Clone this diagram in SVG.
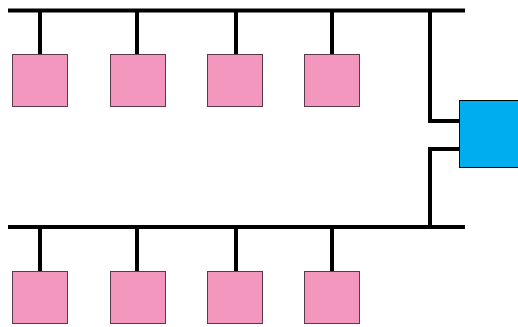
<svg xmlns="http://www.w3.org/2000/svg" width="518" height="327" viewBox="0 0 518 327">
<style>
.bus{stroke:#000;stroke-width:4;fill:none}
.pc{fill:#F497BE;stroke:#5a3a4a;stroke-width:1}
.hub{fill:#00AEEF;stroke:#000;stroke-width:1}
</style>
<rect width="518" height="327" fill="#fff"/>
<g id="connectors">
<path class="bus" d="M8 10.5H465M8 227H465"/>
<path class="bus" d="M40 10.5V54M137 10.5V54M236 10.5V54M332 10.5V54"/>
<path class="bus" d="M40 227V271M137 227V271M236 227V271M332 227V271"/>
<path class="bus" d="M430 10.5V121H459M459 149H430V227"/>
</g>
<g id="pc1"><rect class="pc" x="12.5" y="54.5" width="55" height="52"/></g>
<g id="pc2"><rect class="pc" x="110.5" y="54.5" width="55" height="52"/></g>
<g id="pc3"><rect class="pc" x="207.5" y="54.5" width="55" height="52"/></g>
<g id="pc4"><rect class="pc" x="304.5" y="54.5" width="55" height="52"/></g>
<g id="pc5"><rect class="pc" x="12.5" y="271.5" width="55" height="52"/></g>
<g id="pc6"><rect class="pc" x="110.5" y="271.5" width="55" height="52"/></g>
<g id="pc7"><rect class="pc" x="207.5" y="271.5" width="55" height="52"/></g>
<g id="pc8"><rect class="pc" x="304.5" y="271.5" width="55" height="52"/></g>
<g id="hub"><rect class="hub" x="459.5" y="100.5" width="59" height="67"/></g>
</svg>
